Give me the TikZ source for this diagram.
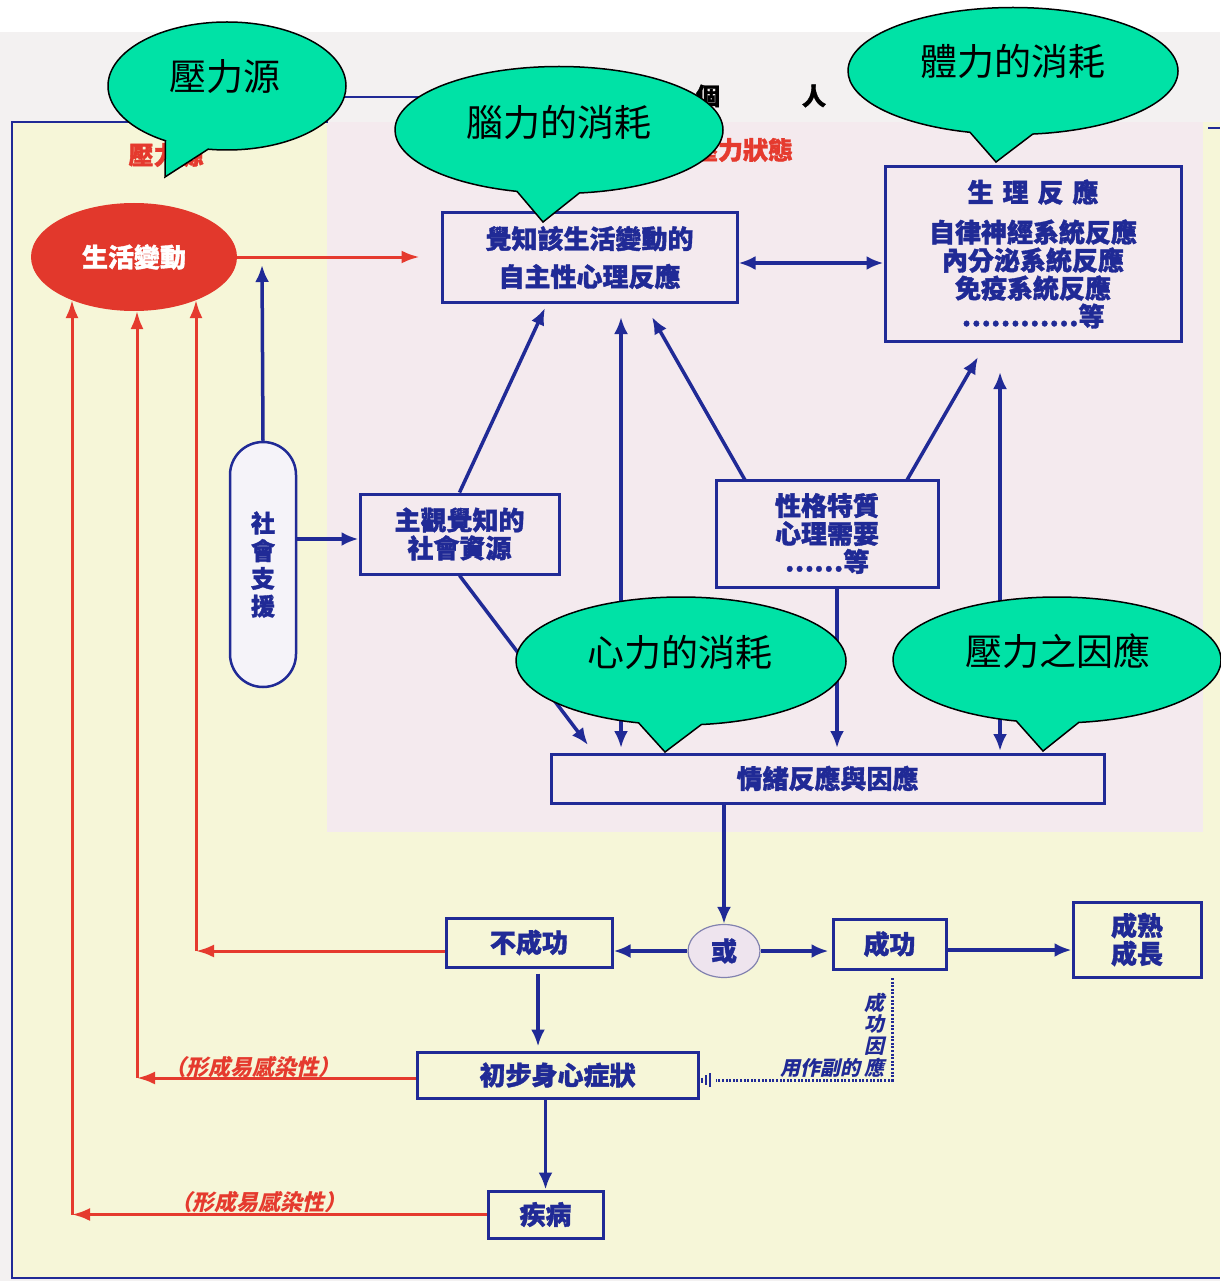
\documentclass[tikz,border=0pt]{standalone}
\usepackage{fontspec}
\newfontfamily\cjk{Noto Sans CJK TC}[BoldFeatures={FakeBold=1.4}]
\newfontfamily\cjksl{Noto Sans CJK TC}[FakeSlant=0.22]
\usetikzlibrary{arrows.meta,shapes.geometric,shapes.callouts}
\definecolor{dblue}{RGB}{32,42,150}
\definecolor{lred}{RGB}{229,58,46}
\definecolor{rfill}{RGB}{226,56,44}
\definecolor{yel}{RGB}{246,246,216}
\definecolor{pinkbg}{RGB}{244,234,238}
\definecolor{scan}{RGB}{243,241,241}
\definecolor{cgreen}{RGB}{0,226,166}
\definecolor{capfill}{RGB}{245,243,249}
\definecolor{orfill}{RGB}{238,228,238}
\definecolor{oredge}{RGB}{130,130,175}
\newcommand\bxfont{\cjk\bfseries\fontsize{26}{28}\selectfont}
\newcommand\bubfont{\cjk\fontsize{37}{40}\selectfont}
\begin{document}
\begin{tikzpicture}[x=1pt,y=-1pt,
  box/.style={draw=dblue, line width=3pt, inner sep=0pt, text=dblue, font=\bxfont, align=center},
  barr/.style={draw=dblue, line width=3.5pt, -{Latex[length=17pt,width=14pt]}},
  bdbl/.style={draw=dblue, line width=3.5pt, {Latex[length=17pt,width=14pt]}-{Latex[length=17pt,width=14pt]}},
  redarr/.style={draw=lred, line width=3pt, -{Latex[length=18pt,width=13pt]}},
  redlbl/.style={text=lred, font=\cjksl\bfseries\fontsize{22}{24}\selectfont, inner sep=0pt},
  bubble/.style={ellipse callout, draw=black, line width=1.5pt, fill=cgreen, inner sep=0pt, callout pointer arc=22},
  bubtext/.style={text=black, font=\bubfont, inner sep=0pt}
]
\useasboundingbox (0,0) rectangle (1220,1281);
% backgrounds
\fill[white] (0,0) rectangle (1220,1281);
\fill[scan] (0,32) rectangle (1220,1281);
\fill[yel] (12,122) rectangle (1220,1278);
\fill[pinkbg] (327,122) rectangle (1203,832);
% frame
\draw[dblue, line width=2.5pt] (690,97) -- (327,97) -- (327,122) -- (12,122) -- (12,1278) -- (1220,1278);
\draw[dblue, line width=2.5pt] (1208,128) -- (1220,128);
% header labels
\node[text=black, font=\cjk\bfseries\fontsize{24}{26}\selectfont, inner sep=0pt] (ppl) at (761,96) {個\hspace{82pt}人};
\node[text=lred, font=\cjk\bfseries\fontsize{25}{26}\selectfont, inner sep=0pt] (redsrc) at (166,155) {壓力源};
\node[text=lred, font=\cjk\bfseries\fontsize{25}{26}\selectfont, inner sep=0pt] (redstate) at (743,150) {壓力狀態};

% nodes
\node[ellipse, fill=rfill, minimum width=206pt, minimum height=108pt, inner sep=0pt, text=white, font=\cjk\bfseries\fontsize{26}{28}\selectfont] (life) at (134,257) {生活變動};
\node[box, minimum width=295pt, minimum height=89pt, font=\cjk\bfseries\fontsize{26}{38}\selectfont] (perc) at (589.5,257.5) {覺知該生活變動的\\自主性心理反應};
\node[box, minimum width=296pt, minimum height=174pt] (phys) at (1033,254) {生\hspace{9pt}理\hspace{9pt}反\hspace{9pt}應\\[12pt]自律神經系統反應\\內分泌系統反應\\免疫系統反應\\…………等};
\node[draw=dblue, line width=2.5pt, fill=capfill, rounded corners=33pt, minimum width=66pt, minimum height=245pt, inner sep=0pt, text=dblue, font=\cjk\bfseries\fontsize{24}{27.7}\selectfont, align=center] (sup) at (263,564.5) {社\\會\\支\\援};
\node[box, minimum width=199pt, minimum height=80pt] (sres) at (459.5,534) {主觀覺知的\\社會資源};
\node[box, minimum width=222pt, minimum height=107pt] (pers) at (827,533.5) {性格特質\\心理需要\\……等};
\node[box, minimum width=553pt, minimum height=49pt] (emo) at (827.5,778.5) {情緒反應與因應};
\node[ellipse, draw=oredge, line width=1.2pt, fill=orfill, minimum width=72pt, minimum height=53pt, inner sep=0pt, text=dblue, font=\bxfont] (or) at (724,951) {或};
\node[box, minimum width=166pt, minimum height=49pt] (fail) at (529,942.5) {不成功};
\node[box, minimum width=113pt, minimum height=50pt] (succ) at (889.5,944) {成功};
\node[box, minimum width=128pt, minimum height=75pt] (mature) at (1137,939.5) {成熟\\成長};
\node[box, minimum width=281pt, minimum height=46pt] (symp) at (557.5,1075) {初步身心症狀};
\node[box, minimum width=115pt, minimum height=47pt] (ill) at (545.5,1214.5) {疾病};

% coordinates
\coordinate (supTip) at (262,265);
\coordinate (t4) at (545,308);
\coordinate (pA) at (621,317);
\coordinate (pB) at (621,748);
\coordinate (c6s) at (745,480);
\coordinate (c6t) at (652,317);
\coordinate (t7) at (588,745);
\coordinate (c8s) at (837,587);
\coordinate (c8t) at (837,748);
\coordinate (c9s) at (907,480);
\coordinate (c9t) at (978,357);
\coordinate (qA) at (1000,372);
\coordinate (qB) at (1000,751);
\coordinate (d1) at (892,978);
\coordinate (d2) at (892,1080);
\coordinate (d3) at (716,1080);
\coordinate (f1) at (196,951);
\coordinate (f1t) at (196,300);
\coordinate (f2) at (137,1078);
\coordinate (f2t) at (137,311);
\coordinate (f3) at (72,1214.5);
\coordinate (f3t) at (72,300);

% blue connectors
\draw[redarr, shorten >=21pt] (life.east) -- (life.east -| perc.west);
\draw[bdbl] ([yshift=-5.5pt]perc.east) -- ([yshift=-5.5pt]perc.east -| phys.west);
\draw[barr] (sup.north) -- (supTip);
\draw[barr] ([yshift=-5pt]sres.west -| sup.east) -- ([yshift=-5pt]sres.west);
\draw[barr] (sres.north) -- (t4);
\draw[bdbl] (pA) -- (pB);
\draw[barr] (c6s) -- (c6t);
\draw[barr] (sres.south) -- (t7);
\draw[barr] (c8s) -- (c8t);
\draw[barr] (c9s) -- (c9t);
\draw[bdbl] (qA) -- (qB);
\draw[barr] (or.north |- emo.south) -- (or.north);
\draw[barr] (or.west) -- (or.west -| fail.east);
\draw[barr, shorten >=3pt] (or.east) -- (or.east -| succ.west);
\draw[barr] ([yshift=-6pt]succ.east) -- ([yshift=-6pt]succ.east -| mature.west);
\draw[barr, shorten <=5pt, shorten >=4pt] ([xshift=9pt]fail.south) -- ([xshift=9pt]fail.south |- symp.north);
\draw[barr] (ill.north |- symp.south) -- (ill.north);
% dotted success-coping line
\draw[dblue, line width=3pt, dash pattern=on 2pt off 1.6pt] (d1) -- (d2) -- (d3);
\draw[dblue, line width=1.8pt] (702,1077.5) -- (702,1082.5) (706,1075) -- (706,1085) (710,1073) -- (710,1087);
\node[text=dblue, font=\cjksl\bfseries\fontsize{20}{21.7}\selectfont, align=center, inner sep=0pt] (sidev) at (874,1035) {成\\功\\因\\應};
\node[text=dblue, font=\cjksl\bfseries\fontsize{20}{22}\selectfont, inner sep=0pt] (sideh) at (820,1068) {用作副的};

% red feedback
\draw[redarr] ([yshift=-8.5pt]fail.west) -- (f1);
\draw[redarr] (f1) -- (f1t);
\draw[redarr] ([yshift=-3pt]symp.west) -- (f2);
\draw[redarr] (f2) -- (f2t);
\draw[redarr] (ill.west) -- (f3);
\draw[redarr] (f3) -- (f3t);
\node[redlbl] (lbl1) at (252,1067) {（形成易感染性）};
\node[redlbl] (lbl2) at (258,1202) {（形成易感染性）};

% callouts
\node[bubble, minimum width=238pt, minimum height=128pt, callout absolute pointer={(165,177)}] (b1) at (227,86) {};
\node[bubtext] (b1t) at (225,77) {壓力源};
\node[bubble, minimum width=328pt, minimum height=127pt, callout absolute pointer={(543,222)}] (b2) at (559,130) {};
\node[bubtext] (b2t) at (559,122) {腦力的消耗};
\node[bubble, minimum width=330pt, minimum height=127pt, callout absolute pointer={(996,162)}] (b3) at (1013,71) {};
\node[bubtext] (b3t) at (1013,61) {體力的消耗};
\node[bubble, minimum width=330pt, minimum height=128pt, callout absolute pointer={(665,752)}] (b4) at (681,661) {};
\node[bubtext] (b4t) at (680,652) {心力的消耗};
\node[bubble, minimum width=328pt, minimum height=126pt, callout absolute pointer={(1043,751)}] (b5) at (1057,660) {};
\node[bubtext] (b5t) at (1058,651) {壓力之因應};
\end{tikzpicture}
\end{document}
